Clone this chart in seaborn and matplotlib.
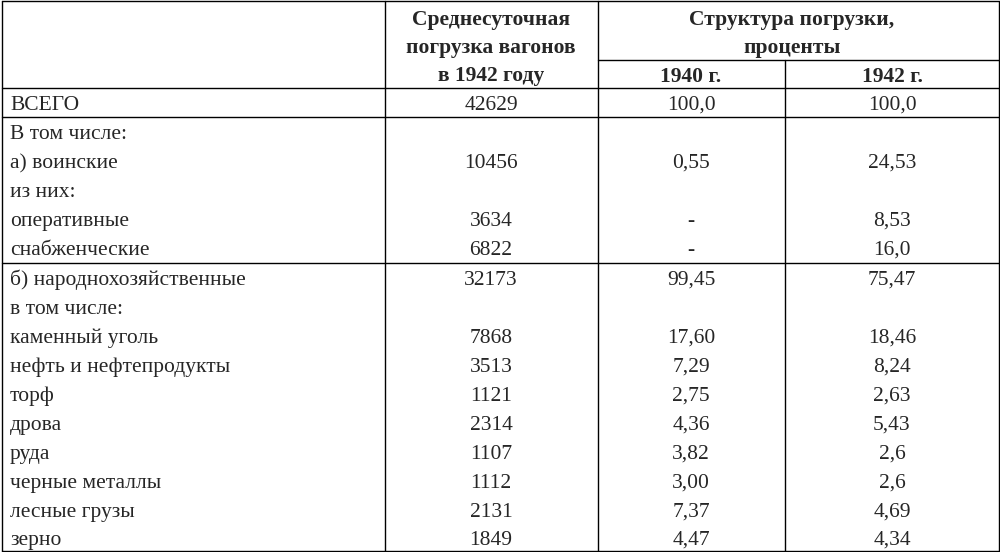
import matplotlib
matplotlib.use("Agg")
import matplotlib.pyplot as plt
import seaborn as sns

labels = ["ВСЕГО", "В том числе:", "а) воинские", "из них:", "оперативные", "снабженческие",
          "б) народнохозяйственные", "в том числе:", "каменный уголь", "нефть и нефтепродукты",
          "торф", "дрова", "руда", "черные металлы", "лесные грузы", "зерно"]
loading_1942 = ["42629", "", "10456", "", "3634", "6822", "32173", "", "7868", "3513",
                "1121", "2314", "1107", "1112", "2131", "1849"]
share_1940 = ["100,0", "", "0,55", "", "-", "-", "99,45", "", "17,60", "7,29",
              "2,75", "4,36", "3,82", "3,00", "7,37", "4,47"]
share_1942 = ["100,0", "", "24,53", "", "8,53", "16,0", "75,47", "", "18,46", "8,24",
              "2,63", "5,43", "2,6", "2,6", "4,69", "4,34"]

sns.set_theme(style="white")
plt.rcParams['font.family'] = ['Liberation Serif', 'DejaVu Serif']

fig = plt.figure(figsize=(10, 5.52), dpi=100)
ax = fig.add_axes([0, 0, 1, 1])
ax.set_xlim(0, 1000)
ax.set_ylim(552, 0)
ax.axis('off')

fs = 15.5
kw = dict(color='black', lw=1.0)
off = 7  # baseline offset from row centre

# borders and grid lines
ax.plot([1.5, 1.5], [1, 551], **kw)
ax.plot([998.5, 998.5], [1, 551], **kw)
ax.plot([1.5, 998.5], [1, 1], **kw)
ax.plot([1.5, 998.5], [551, 551], **kw)
ax.plot([385, 385], [1, 551], **kw)
ax.plot([598, 598], [1, 551], **kw)
ax.plot([785, 785], [60, 551], **kw)
ax.plot([598, 998.5], [60, 60], **kw)
for y in [88, 117, 263]:
    ax.plot([1.5, 998.5], [y, y], **kw)

def put(x, y, t, ha='center', bold=False):
    ax.text(x, y + off, t, ha=ha, va='baseline', fontsize=fs,
            fontweight='bold' if bold else 'normal')

# header
for i, t in enumerate(["Среднесуточная", "погрузка вагонов", "в 1942 году"]):
    put(491, 18 + 28 * i, t, bold=True)
for i, t in enumerate(["Структура погрузки,", "проценты"]):
    put(792, 18 + 28 * i, t, bold=True)
put(691, 75, "1940 г.", bold=True)
put(892, 75, "1942 г.", bold=True)

# body
row_y = [103, 132, 161, 190, 219, 248, 278, 307, 336, 365, 394, 423, 452, 481, 510, 538]
for y, lab, a, b, c in zip(row_y, labels, loading_1942, share_1940, share_1942):
    put(10, y, lab, ha='left')
    put(491, y, a)
    put(691, y, b)
    put(892, y, c)

fig.savefig("out.png", dpi=100, facecolor='white')
